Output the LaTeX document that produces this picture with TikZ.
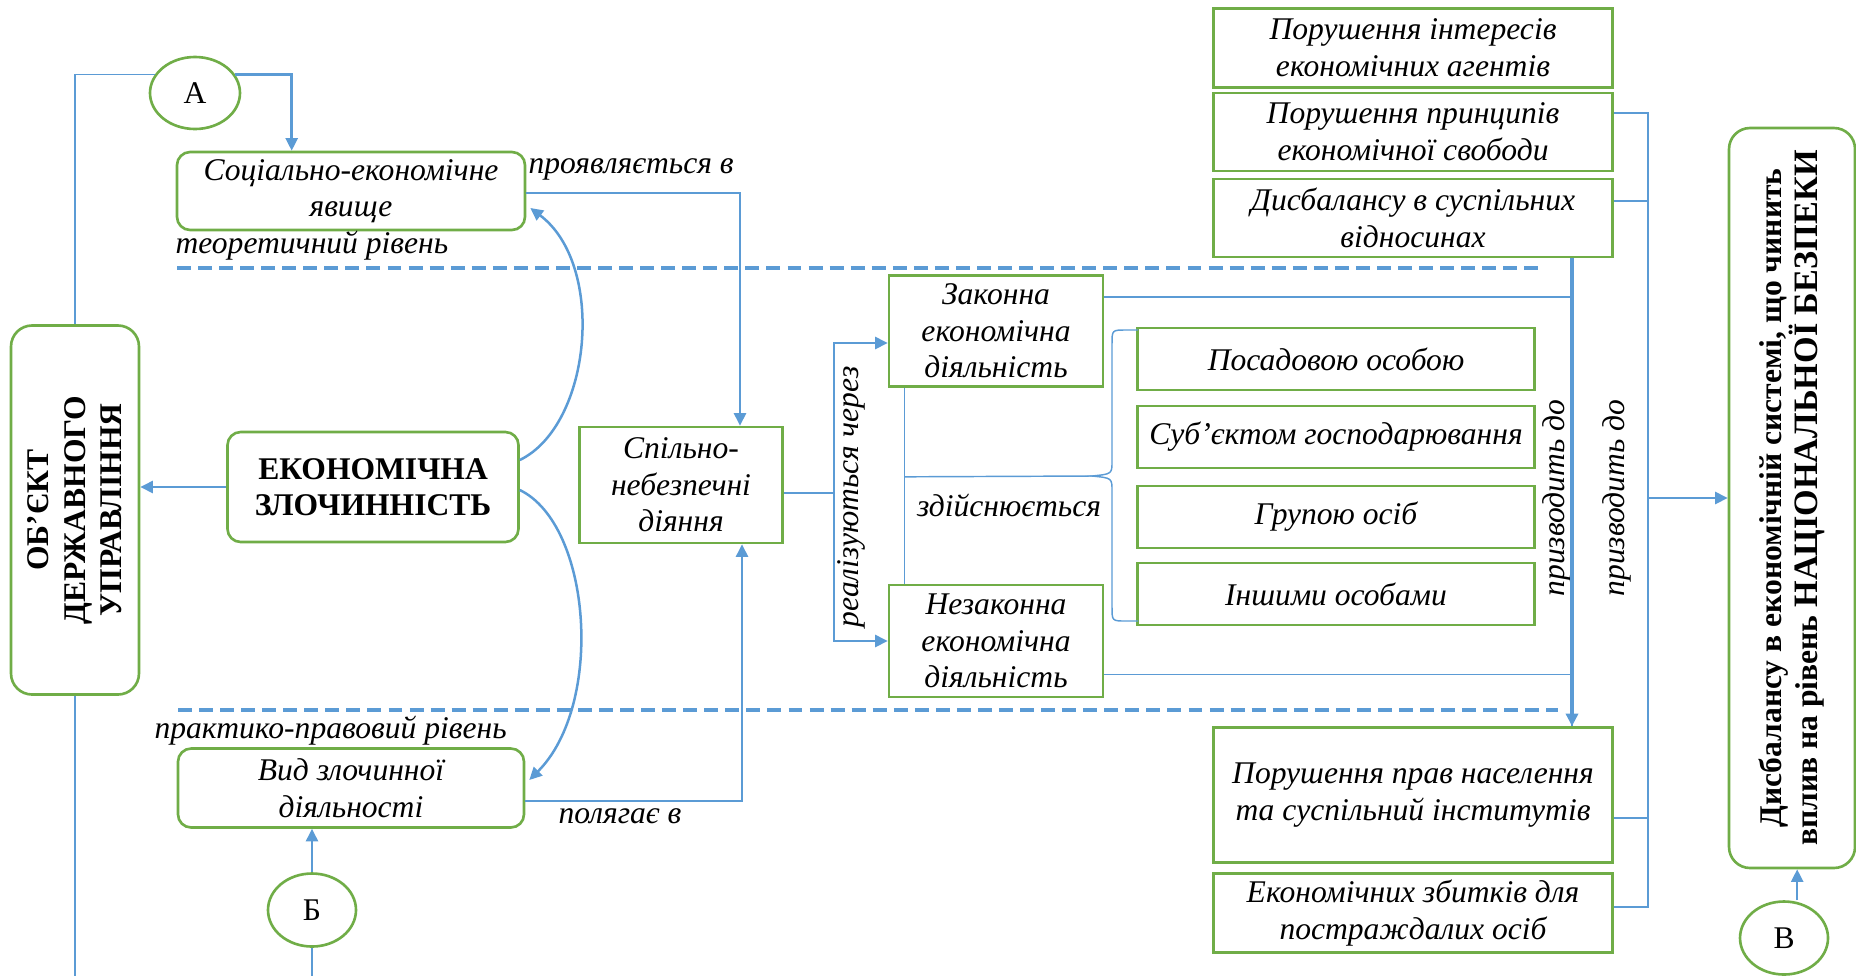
\documentclass[tikz,border=0pt]{standalone}
\usepackage{fontspec}
\setmainfont{Liberation Serif}
\usetikzlibrary{arrows.meta,shapes.geometric,calc}

\definecolor{boxgreen}{RGB}{112,173,71}
\definecolor{lineblue}{RGB}{91,155,213}
\newlength\pxu
\setlength\pxu{0.38pt}
\newcommand\txtsz{\fontsize{12}{13.9}\selectfont}

\tikzset{
  gbox/.style={draw=boxgreen, line width=1pt, fill=white, inner sep=0pt,
    align=center, font=\txtsz\itshape},
  rbox/.style={gbox, rounded corners=5pt},
  bbox/.style={rbox, font=\txtsz\bfseries},
  circ/.style={ellipse, draw=boxgreen, line width=1pt, fill=white, inner sep=0pt, font=\txtsz},
  lbl/.style={inner sep=0pt, font=\txtsz\itshape},
  thinln/.style={draw=lineblue, line width=0.55pt},
  arln/.style={draw=lineblue, line width=0.95pt, ->},
  lvline/.style={draw=lineblue, line width=1.8pt, dash pattern=on 5.3pt off 2.7pt},
}

\begin{document}
\begin{tikzpicture}[x=\pxu, y=-\pxu, >={Triangle[length=4.8pt,width=4.6pt]}]
\useasboundingbox (0,0) rectangle (1856,976);
\coordinate (bot) at (0,976);

% levels
\draw[lvline] (177,268) -- (1544,268);
\draw[lvline] (178,710) -- (1558,710);

% left part
\node[bbox, rotate=90, minimum width=369\pxu, minimum height=128\pxu, rounded corners=8pt] (ob) at (75,510) {ОБ’ЄКТ\\ДЕРЖАВНОГО\\УПРАВЛІННЯ};
\node[bbox, minimum width=291\pxu, minimum height=110\pxu] (ek) at (373,487) {ЕКОНОМІЧНА\\ЗЛОЧИННІСТЬ};
\node[rbox, minimum width=348\pxu, minimum height=78\pxu] (se) at (351,191) {Соціально-економічне\\явище};
\node[rbox, minimum width=346\pxu, minimum height=79\pxu] (vid) at (351,788) {Вид злочинної\\діяльності};
\node[circ, minimum width=90\pxu, minimum height=72\pxu] (A) at (195,93) {А};
\node[circ, minimum width=88\pxu, minimum height=73\pxu] (B) at (312,910) {Б};
\node[lbl, anchor=west] (lvtheory) at (175,246) {теоретичний рівень};
\node[lbl, anchor=west] (lvpract) at (154,731) {практико-правовий рівень};
\node[lbl, anchor=west] (lblshow) at (528,169) {проявляється в};
\node[lbl, anchor=west] (lblcons) at (558,816) {полягає в};

% middle part
\node[gbox, minimum width=203\pxu, minimum height=116\pxu] (sp) at (681,485) {Спільно-\\небезпечні\\діяння};
\node[gbox, minimum width=214\pxu, minimum height=111\pxu] (zak) at (996,331) {Законна\\економічна\\діяльність};
\node[gbox, minimum width=214\pxu, minimum height=112\pxu] (nez) at (996,641) {Незаконна\\економічна\\діяльність};
\node[lbl, rotate=90] (lblreal) at (851,497) {реалізуються через};
\node[lbl] (lbldo) at (1009,505) {здійснюється};
\foreach \nm/\yy/\tx in {p1/359/Посадовою особою, p2/437/Суб’єктом господарювання, p3/517/Групою осіб, p4/594/Іншими особами}
  \node[gbox, minimum width=397\pxu, minimum height=62\pxu] (\nm) at (1336,\yy) {\tx};

% right part
\node[gbox, minimum width=399\pxu, minimum height=79\pxu] (t1) at (1413,48) {Порушення інтересів\\економічних агентів};
\node[gbox, minimum width=399\pxu, minimum height=78\pxu] (t2) at (1413,132) {Порушення принципів\\економічної свободи};
\node[gbox, minimum width=399\pxu, minimum height=78\pxu] (t3) at (1413,218) {Дисбалансу в суспільних\\відносинах};
\node[gbox, minimum width=399\pxu, minimum height=135\pxu] (b1) at (1413,795) {Порушення прав населення\\та суспільний інститутів};
\node[gbox, minimum width=399\pxu, minimum height=79\pxu] (b2) at (1413,913) {Економічних збитків для\\постраждалих осіб};
\node[lbl, rotate=90] (lbllead1) at (1557,498) {призводить до};
\node[lbl, rotate=90] (lbllead2) at (1617,498) {призводить до};
\node[bbox, rotate=90, minimum width=740\pxu, minimum height=126\pxu, rounded corners=8pt] (nb) at (1792,498) {Дисбалансу в економічній системі, що чинить\\вплив на рівень {\fontsize{13}{13.9}\selectfont НАЦІОНАЛЬНОЇ БЕЗПЕКИ}};
\node[circ, minimum width=88\pxu, minimum height=73\pxu] (V) at (1784,938) {В};

% connectors, left
\draw[thinln] (ob.east) |- (A.155);
\draw[arln] (A.25) -| ($(se.north west)+(116,0)$);
\draw[thinln] (ob.west) -- (ob.west |- bot);
\draw[arln] (ek.west) -- (ek.west -| ob.south);
\draw[arln] ($(ek.east)+(0,-27)$) .. controls ($(ek.east)+(72,-62)$) and ($(se.east)+(80,74)$) .. ($(se.east)+(4,17)$);
\draw[arln] ($(ek.east)+(0,3)$) .. controls ($(ek.east)+(72,38)$) and ($(vid.east)+(79,-83)$) .. ($(vid.east)+(4,-8)$);
\draw[arln] ($(se.east)+(0,2)$) -| ($(sp.north)+(59,0)$);
\draw[arln] ($(vid.east)+(0,13)$) -| ($(sp.south)+(61,0)$);
\draw[arln] (B.north) -- (B.north |- vid.south);
\draw[arln,-] (B.south) -- (B.south |- bot);

% connectors, middle
\coordinate (fork) at ($(sp.east)+(50,8)$);
\draw[arln,-] ($(sp.east)+(0,8)$) -- (fork);
\draw[arln] (fork) |- ($(zak.west)+(0,12)$);
\draw[arln] (fork) |- (nez.west);
\draw[thinln] ($(zak.south west)+(17,0)$) -- ($(nez.north west)+(17,0)$);
\coordinate (split) at ($(zak.south west)+(17,89)$);
\coordinate (brtip) at (1092,476);
\draw[thinln] (split) -- (brtip);
% brace
\draw[thinln] (1138,330) -- (1126,330) .. controls (1112,330) .. (1112,344) -- (1112,461)
  .. controls (1112,474) .. (brtip) .. controls (1112,478) .. (1112,491) -- (1112,607)
  .. controls (1112,621) .. (1126,621) -- (1138,621);

% connectors, right
\coordinate (dtop) at ($(t3.south)+(159,0)$);
\coordinate (dbot) at ($(b1.north)+(159,0)$);
\draw[thinln] ($(zak.north east)+(0,23)$) -| (dtop);
\draw[thinln] ($(nez.south east)+(0,-24)$) -| (dbot);
\draw[arln, line width=1.3pt] (dtop) -- (dbot);
\coordinate (bus) at ($(t2.east)+(34,0)$);
\draw[thinln] ($(t2.east)+(0,-19)$) -| ($(b2.east)+(34,-6)$) -- ($(b2.east)+(0,-6)$);
\draw[thinln] ($(t3.east)+(0,-17)$) -- ($(t3.east)+(34,-17)$);
\draw[thinln] ($(b1.east)+(0,23)$) -- ($(b1.east)+(34,23)$);
\draw[arln] (bus |- nb.north) -- (nb.north);
\draw[arln] ([xshift=5pt]V.north) -- ([xshift=5pt]V.north |- nb.west);
\end{tikzpicture}
\end{document}
